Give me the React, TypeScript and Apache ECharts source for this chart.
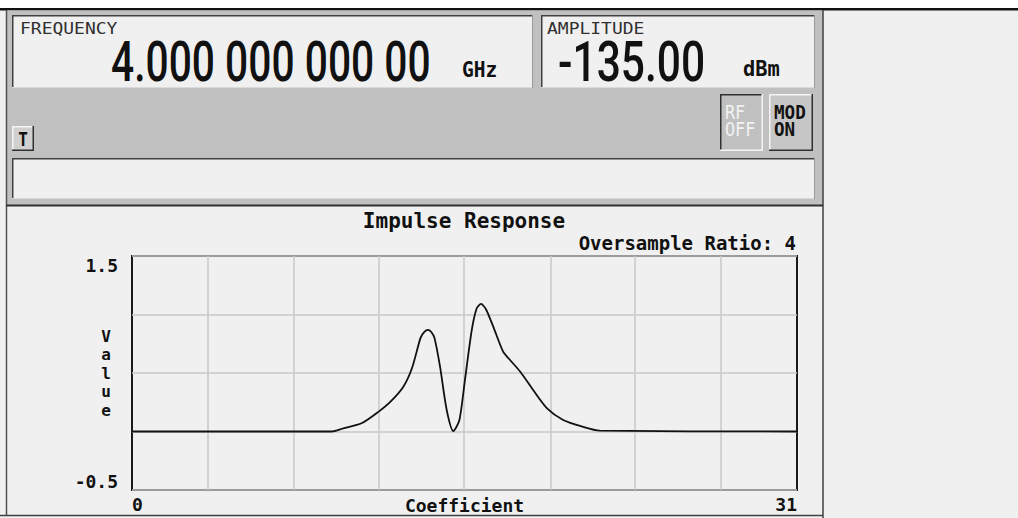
import React, { useEffect, useRef } from 'react';
import * as echarts from 'echarts';

// ---- data ----
const coefficients = [0, 9.3, 9.85, 10.7, 11.5, 12.05, 12.65, 13.05, 13.45, 13.62, 13.8, 13.95, 14.1, 14.36, 14.67, 14.98, 15.26, 15.52, 15.84, 16.07, 16.27, 16.5, 16.84, 17.3, 17.55, 18.1, 18.7, 19.35, 20.1, 21.0, 21.8, 31];
const values = [0, 0, 0.027, 0.07, 0.17, 0.255, 0.383, 0.54, 0.8, 0.85, 0.868, 0.85, 0.8, 0.554, 0.184, 0.004, 0.096, 0.44, 0.868, 1.053, 1.09, 1.045, 0.896, 0.682, 0.626, 0.511, 0.355, 0.198, 0.098, 0.041, 0.007, 0];
const verticalGridPositions = [3.55, 7.55, 11.49, 15.46, 19.5, 23.45, 27.44];
const xAxisLabels = [0, 31];
const yAxisLabels = [-0.5, 1.5];
const chartTitle = 'Impulse Response';
const chartSubtitle = 'Oversample Ratio: 4';
const xAxisName = 'Coefficient';
const yAxisName = 'Value';
const frequencyLabel = 'FREQUENCY';
const frequencyValue = '4.000 000 000 00';
const frequencyUnit = 'GHz';
const amplitudeLabel = 'AMPLITUDE';
const amplitudeValue = '-135.00';
const amplitudeUnit = 'dBm';

const MONO = 'DejaVu Sans Mono';

function line(x1: number, y1: number, x2: number, y2: number, stroke: string, w = 1.5) {
  return { type: 'line', silent: true, shape: { x1, y1, x2, y2 }, style: { stroke, lineWidth: w } };
}
function rect(x: number, y: number, width: number, height: number, fill: string) {
  return { type: 'rect', silent: true, shape: { x, y, width, height }, style: { fill } };
}
function text(x: number, y: number, t: string, font: string, fill: string, sx = 1, sy = 1, align = 'left') {
  return {
    type: 'text', silent: true, x, y, scaleX: sx, scaleY: sy,
    style: { text: t, x: 0, y: 0, font, fill, align, textAlign: align, verticalAlign: 'middle', textVerticalAlign: 'middle' },
  };
}
function insetBox(x: number, y: number, w: number, h: number) {
  return [
    rect(x, y, w, h, '#f0f0f0'),
    line(x, y + 0.75, x + w, y + 0.75, '#404040', 1.5),
    line(x + 0.75, y, x + 0.75, y + h, '#404040', 1.5),
    line(x, y + h - 0.5, x + w, y + h - 0.5, '#dadada', 1),
    line(x + w - 0.5, y, x + w - 0.5, y + h, '#9a9a9a', 1),
  ];
}
function button(x: number, y: number, w: number, h: number, fill: string, raised: boolean) {
  const light = '#f4f4f4';
  const dark = '#303030';
  return [
    rect(x, y, w, h, fill),
    line(x, y + 0.75, x + w, y + 0.75, raised ? light : dark, 1.5),
    line(x + 0.75, y, x + 0.75, y + h, raised ? light : dark, 1.5),
    line(x, y + h - 0.75, x + w, y + h - 0.75, raised ? dark : light, 1.5),
    line(x + w - 0.75, y, x + w - 0.75, y + h, raised ? dark : light, 1.5),
  ];
}

export default function App() {
  const ref = useRef<HTMLDivElement>(null);
  useEffect(() => {
    document.body.style.margin = '0';
    const chart = echarts.init(ref.current as HTMLDivElement, null, { renderer: 'svg' });

    const graphicElements: any[] = [
      rect(0, 0, 1018, 8, '#ffffff'),
      rect(0, 8, 1018, 2.5, '#111111'),
      rect(6, 10.5, 817, 195, '#c0c0c0'),
      ...insetBox(12, 15, 521, 73),
      ...insetBox(541, 15, 274, 73),
      ...insetBox(12, 158, 803, 41),
      ...button(12, 126, 22, 25, '#d0d0d0', true),
      ...button(720, 94, 43, 57, '#c0c0c0', false),
      ...button(769, 94, 44, 57, '#c6c6c6', true),
      line(6.5, 10, 6.5, 516, '#505050', 1.5),
      line(823, 10, 823, 518, '#404040', 1.5),
      line(6, 205.5, 823, 205.5, '#303030', 2),
      line(0, 515.5, 823, 515.5, '#404040', 1.5),
      text(20, 29.5, frequencyLabel, `15px "${MONO}"`, '#303030', 1.2, 1),
      text(111, 62, frequencyValue, '500 56px Roboto', '#111111', 0.728, 1),
      text(462, 70, frequencyUnit, `bold 17px "${MONO}"`, '#111111', 1.15, 1.2),
      text(547, 29.5, amplitudeLabel, `15px "${MONO}"`, '#303030', 1.2, 1),
      text(558, 62, amplitudeValue, '500 56px Roboto', '#111111', 0.76, 1),
      text(743, 69, amplitudeUnit, `bold 17px "${MONO}"`, '#111111', 1.2, 1.2),
      text(23, 139, 'T', `bold 16px "${MONO}"`, '#111111', 1, 1.25, 'center'),
      text(725, 112, 'RF', `16px "${MONO}"`, '#f2f2f2', 1.05, 1.2),
      text(725, 129.5, 'OFF', `16px "${MONO}"`, '#f2f2f2', 1.05, 1.2),
      text(774, 112, 'MOD', `bold 16px "${MONO}"`, '#111111', 1.1, 1.2),
      text(774, 129.5, 'ON', `bold 16px "${MONO}"`, '#111111', 1.1, 1.2),
    ];

    const labelFont = { fontFamily: MONO, fontWeight: 'bold', fontSize: 18, color: '#111111' };

    chart.setOption({
      animation: false,
      backgroundColor: '#f0f0f0',
      title: [
        {
          text: chartTitle, left: 464, top: 210, textAlign: 'center', padding: 0,
          textStyle: { fontFamily: MONO, fontWeight: 'bold', fontSize: 21, color: '#111111' },
        },
        {
          text: chartSubtitle, right: 222, top: 233, padding: 0,
          textStyle: { fontFamily: MONO, fontWeight: 'bold', fontSize: 19, color: '#111111' },
        },
      ],
      grid: {
        left: 132, top: 256, width: 665, height: 234,
        show: true, borderColor: '#1a1a1a', borderWidth: 2, backgroundColor: 'transparent',
        containLabel: false,
      },
      xAxis: {
        type: 'value', min: 0, max: 31,
        axisLine: { show: false }, axisTick: { show: false }, splitLine: { show: false },
        axisLabel: {
          ...labelFont, margin: 5, customValues: xAxisLabels,
          alignMinLabel: 'left', alignMaxLabel: 'right', showMinLabel: true, showMaxLabel: true,
        },
        name: xAxisName, nameLocation: 'middle', nameGap: 6, nameMoveOverlap: false,
        nameTextStyle: { ...labelFont, verticalAlign: 'top' },
      },
      yAxis: {
        type: 'value', min: -0.5, max: 1.5, interval: 0.5,
        axisLine: { show: false }, axisTick: { show: false },
        splitLine: { show: true, lineStyle: { color: '#c8c8c8', width: 1.5 } },
        axisLabel: {
          ...labelFont, margin: 14,
          formatter: (v: number) => (yAxisLabels.indexOf(v) >= 0 ? String(v) : ''),
          verticalAlignMaxLabel: 'top', verticalAlignMinLabel: 'bottom',
          showMinLabel: true, showMaxLabel: true,
        },
        name: yAxisName.split('').join('\n'), nameLocation: 'middle', nameRotate: 0, nameGap: 26,
        nameMoveOverlap: false,
        nameTextStyle: { ...labelFont, fontSize: 16, lineHeight: 18.5, align: 'center', verticalAlign: 'middle' },
      },
      series: [
        {
          type: 'line',
          data: coefficients.map((c, i) => [c, values[i]]),
          showSymbol: false,
          smooth: 0.25,
          lineStyle: { color: '#111111', width: 1.8 },
          z: 3,
          markLine: {
            silent: true, symbol: ['none', 'none'], label: { show: false },
            lineStyle: { color: '#c8c8c8', width: 1.5, type: 'solid' },
            data: verticalGridPositions.map((x) => ({ xAxis: x })),
            z: 1,
          },
        },
      ],
      graphic: { elements: graphicElements },
    });
    return () => chart.dispose();
  }, []);
  return <div ref={ref} style={{ width: 1018, height: 518 }} />;
}
